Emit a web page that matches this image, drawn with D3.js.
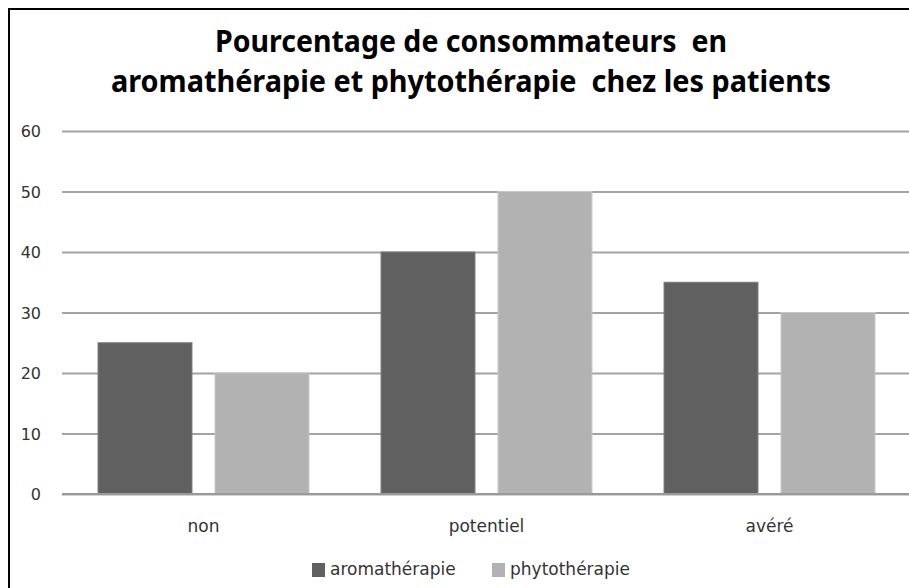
<!DOCTYPE html>
<html>
<head>
<meta charset="utf-8">
<script src="https://cdn.jsdelivr.net/npm/d3@7"></script>
<style>
body { margin:0; background:#fff; }
svg { display:block; }
.title { white-space: pre; }
</style>
</head>
<body>
<svg id="chart"></svg>
<script>
// data
var categories = ["non", "potentiel", "avéré"];
var seriesNames = ["aromathérapie", "phytothérapie"];
var aromaValues = [25, 40, 35];
var phytoValues = [20, 50, 30];
var yTicks = [0, 10, 20, 30, 40, 50, 60];
var titleLines = ["Pourcentage de consommateurs  en", "aromathérapie et phytothérapie  chez les patients"];

var colors = {"aromathérapie":"#606060", "phytothérapie":"#b2b2b2"};
var strokes = {"aromathérapie":"#7c7c7c", "phytothérapie":"#c6c6c6"};

var screen = {width:909, height:588};
var plot = {left:62, right:911, top:131, bottom:494};

var svg = d3.select("#chart")
    .attr("width", screen.width)
    .attr("height", screen.height);

// frame (only left and top visible in the crop)
svg.append("rect")
    .attr("x", 9).attr("y", 9)
    .attr("width", 960).attr("height", 700)
    .attr("fill", "none")
    .attr("stroke", "#000")
    .attr("stroke-width", 2);

// title
var titleWidths = [512, 720];
svg.append("g").selectAll("text")
    .data(titleLines)
    .enter()
    .append("text")
    .classed("title", true)
    .attr("x", 471)
    .attr("y", function(d, i) { return 52 + i * 40; })
    .attr("text-anchor", "middle")
    .attr("font-family", "'Noto Sans', sans-serif")
    .attr("font-weight", "bold")
    .attr("font-size", 30)
    .attr("textLength", function(d, i) { return titleWidths[i]; })
    .attr("lengthAdjust", "spacingAndGlyphs")
    .attr("fill", "#000")
    .text(function(d) { return d; });

var yScale = d3.scaleLinear()
    .domain([0, 60])
    .range([plot.bottom, plot.top]);

var x0 = d3.scaleBand()
    .domain(categories)
    .range([plot.left, plot.right])
    .padding(0);

var x1 = d3.scaleBand()
    .domain(seriesNames)
    .range([0, x0.bandwidth()])
    .paddingInner(0.197)
    .paddingOuter(0.308);

// gridlines + y labels via axis
var yAxis = d3.axisLeft(yScale)
    .tickValues(yTicks)
    .tickSize(-(plot.right - plot.left))
    .tickPadding(21)
    .tickFormat(d3.format("d"));

var yg = svg.append("g")
    .attr("transform", "translate(" + plot.left + ",0)")
    .call(yAxis);
yg.select(".domain").remove();
yg.selectAll(".tick line")
    .attr("stroke", "#a3a3a3")
    .attr("stroke-width", 2);
yg.selectAll(".tick text")
    .attr("font-family", "'DejaVu Sans', sans-serif")
    .attr("font-size", 16)
    .attr("fill", "#333")
    .attr("dy", "0.36em");

// bars
var rows = categories.map(function(c, i) {
    return {cat:c, values:[
        {name:seriesNames[0], value:aromaValues[i]},
        {name:seriesNames[1], value:phytoValues[i]}
    ]};
});

var groups = svg.append("g").selectAll("g")
    .data(rows)
    .enter()
    .append("g")
    .attr("transform", function(d) { return "translate(" + x0(d.cat) + ",0)"; });

groups.selectAll("rect")
    .data(function(d) { return d.values; })
    .enter()
    .append("rect")
    .attr("x", function(d) { return x1(d.name); })
    .attr("y", function(d) { return yScale(d.value); })
    .attr("width", x1.bandwidth())
    .attr("height", function(d) { return yScale(0) - yScale(d.value); })
    .attr("fill", function(d) { return colors[d.name]; })
    .attr("stroke", function(d) { return strokes[d.name]; })
    .attr("stroke-width", 1);

// baseline
svg.append("line")
    .attr("x1", plot.left).attr("x2", plot.right)
    .attr("y1", yScale(0)).attr("y2", yScale(0))
    .attr("stroke", "#999")
    .attr("stroke-width", 2);

// category labels
var xAxis = d3.axisBottom(x0).tickSize(0).tickPadding(26);
var xg = svg.append("g")
    .attr("transform", "translate(0," + plot.bottom + ")")
    .call(xAxis);
xg.select(".domain").remove();
xg.selectAll(".tick text")
    .attr("font-family", "'DejaVu Sans', sans-serif")
    .attr("font-size", 17)
    .attr("fill", "#333");

// legend
var legendX = [312, 492];
var legend = svg.append("g").selectAll("g")
    .data(seriesNames)
    .enter()
    .append("g")
    .attr("transform", function(d, i) { return "translate(" + legendX[i] + ",563)"; });

legend.append("rect")
    .attr("width", 13)
    .attr("height", 14)
    .attr("fill", function(d) { return colors[d]; });

legend.append("text")
    .attr("x", 18)
    .attr("y", 12)
    .attr("font-family", "'DejaVu Sans', sans-serif")
    .attr("font-size", 17)
    .attr("fill", "#333")
    .text(function(d) { return d; });
</script>
</body>
</html>
